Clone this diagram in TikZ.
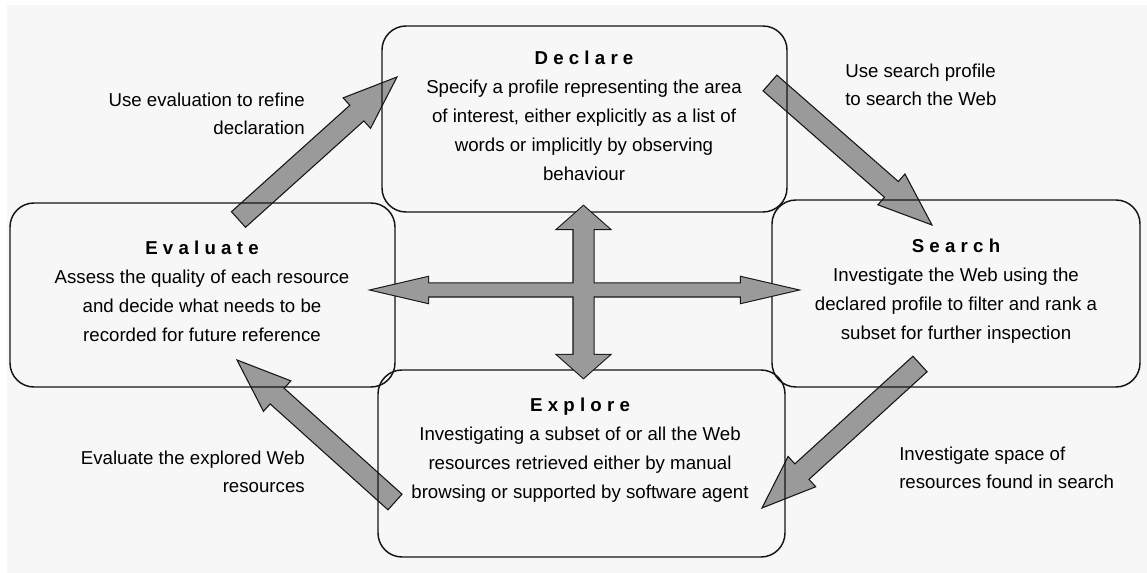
\documentclass[tikz,border=0pt]{standalone}
\usepackage{fontspec}
\setmainfont{Liberation Sans}
\usetikzlibrary{calc}
\definecolor{bg}{HTML}{F7F7F7}
\definecolor{arrowgray}{HTML}{9A9A9A}
\definecolor{edge}{HTML}{151515}
\newcommand{\boxtitle}[1]{{\bfseries\addfontfeature{LetterSpace=28}#1}}
% block arrow: tail, tip, half shaft, half head, head length (pt)
\newcommand{\blockarrow}[5]{%
  \coordinate (#1-#2-h) at ($(#2)!#5!(#1)$);
  \filldraw[arrowbody] ($(#1)!#3!90:(#2)$) -- ($(#1-#2-h)!#3!90:(#2)$) -- ($(#1-#2-h)!#4!90:(#2)$) -- (#2)
     -- ($(#1-#2-h)!#4!-90:(#2)$) -- ($(#1-#2-h)!#3!-90:(#2)$) -- ($(#1)!#3!-90:(#2)$) -- cycle;
}
% double arrow path: A, B, half shaft, half head, head length (pt)
\newcommand{\dblpath}[5]{%
  (#1) -- ($($(#1)!#5!(#2)$)!#4!90:(#2)$) -- ($($(#1)!#5!(#2)$)!#3!90:(#2)$)
  -- ($($(#2)!#5!(#1)$)!#3!90:(#2)$) -- ($($(#2)!#5!(#1)$)!#4!90:(#2)$) -- (#2)
  -- ($($(#2)!#5!(#1)$)!#4!-90:(#2)$) -- ($($(#2)!#5!(#1)$)!#3!-90:(#2)$)
  -- ($($(#1)!#5!(#2)$)!#3!-90:(#2)$) -- ($($(#1)!#5!(#2)$)!#4!-90:(#2)$) -- cycle
}
\begin{document}
\begin{tikzpicture}[x=0.75pt,y=-0.75pt,
  box/.style={draw=edge, line width=1.1pt, rounded corners=18pt, inner sep=0pt, outer sep=0pt},
  boxtext/.style={align=center, font=\fontsize{14}{21.75}\selectfont, inner sep=0pt, text=black},
  lbl/.style={font=\fontsize{14}{21}\selectfont, inner sep=0pt, text=black},
  arrowbody/.style={fill=arrowgray, draw=edge, line width=0.8pt, line join=miter},
  crossline/.style={draw=edge, line width=1.6pt, line join=miter},
]
\useasboundingbox (0,0) rectangle (1147,573);
\fill[bg] (0,0) rectangle (1147,573);
\fill[white] (0,0) rectangle (1147,5);
\fill[white] (0,0) rectangle (7,573);

% named arrow ends
\coordinate (ev-out) at (238.5,219.5);
\coordinate (de-in)  at (397,77);
\coordinate (de-out) at (770,83);
\coordinate (se-in)  at (932,225);
\coordinate (se-out) at (920,364);
\coordinate (ex-in)  at (762,508);
\coordinate (ex-out) at (395,502);
\coordinate (ev-in)  at (237,360);
\coordinate (vtop) at (583.5,206);
\coordinate (vbot) at (583.5,378);
\coordinate (hleft) at (372,290);
\coordinate (hright) at (797,290);

% diagonal arrows
\blockarrow{ev-out}{de-in}{7.875pt}{15.375pt}{40.5pt}
\blockarrow{de-out}{se-in}{7.875pt}{15.375pt}{40.5pt}
\blockarrow{se-out}{ex-in}{7.875pt}{15.375pt}{40.5pt}
\blockarrow{ex-out}{ev-in}{7.875pt}{15.375pt}{40.5pt}

% boxes
\node[box, minimum width={405*0.75pt}, minimum height={186*0.75pt}] (declare) at (584.5,119) {};
\node[box, minimum width={385*0.75pt}, minimum height={184*0.75pt}] (evaluate) at (202.5,295) {};
\node[box, minimum width={368*0.75pt}, minimum height={187*0.75pt}] (search) at (956,293.5) {};
\node[box, minimum width={407*0.75pt}, minimum height={187*0.75pt}] (explore) at (581.5,463.5) {};

% central cross of double arrows
\path[crossline] \dblpath{hleft}{hright}{4.875pt}{9.75pt}{42pt};
\path[crossline] \dblpath{vtop}{vbot}{7.5pt}{19.5pt}{17.25pt};
\fill[arrowgray] \dblpath{hleft}{hright}{4.875pt}{9.75pt}{42pt};
\fill[arrowgray] \dblpath{vtop}{vbot}{7.5pt}{19.5pt}{17.25pt};

% box texts
\node[boxtext] (declare-t) at (584,116) {\boxtitle{Declare}\\Specify a profile representing the area\\of interest, either explicitly as a list of\\words or implicitly by observing\\behaviour};
\node[boxtext] (evaluate-t) at (202,291) {\boxtitle{Evaluate}\\Assess the quality of each resource\\and decide what needs to be\\recorded for future reference};
\node[boxtext] (search-t) at (956,291.5) {\boxtitle{Search}\\Investigate the Web using the\\declared profile to filter and rank a\\subset for further inspection};
\node[boxtext] (explore-t) at (580,450) {\boxtitle{Explore}\\Investigating a subset of or all the Web\\resources retrieved either by manual\\browsing or supported by software agent};

% arrow labels
\node[lbl, align=right, anchor=east] (l1) at (305,113.5) {Use evaluation to refine\\declaration};
\node[lbl, align=left, anchor=west] (l2) at (845,85) {Use search profile\\to search the Web};
\node[lbl, align=right, anchor=east] (l3) at (305,471.5) {Evaluate the explored Web\\resources};
\node[lbl, align=left, anchor=west] (l4) at (899,468) {Investigate space of\\resources found in search};
\end{tikzpicture}
\end{document}
